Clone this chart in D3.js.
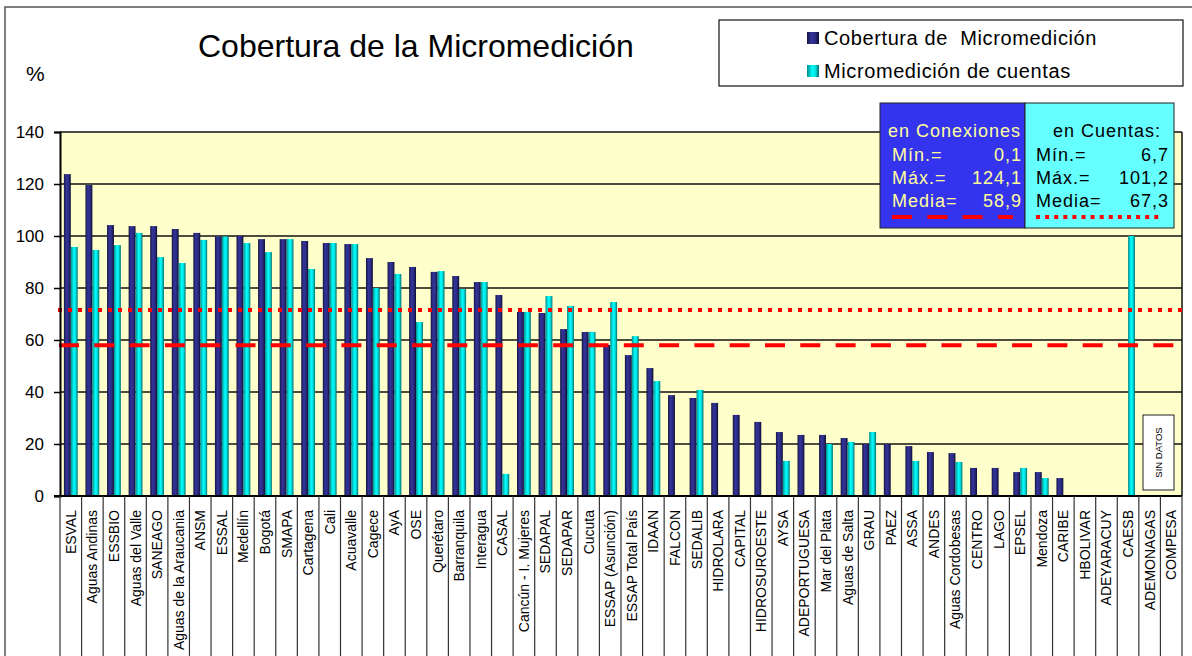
<!DOCTYPE html>
<html>
<head>
<meta charset="utf-8">
<script src="https://cdn.jsdelivr.net/npm/d3@7"></script>
<style>
  body { margin: 0; background: #fff; }
  svg { display: block; font-family: Arial, "Liberation Sans", sans-serif; }
</style>
</head>
<body>
<div id="chart"></div>
<script>
// categories (operators), in the order shown
const operadores = ['ESVAL', 'Aguas Andinas', 'ESSBIO', 'Aguas del Valle', 'SANEAGO',
  'Aguas de la Araucania', 'ANSM', 'ESSAL', 'Medellín', 'Bogotá', 'SMAPA', 'Cartagena',
  'Cali', 'Acuavalle', 'Cagece', 'AyA', 'OSE', 'Querétaro', 'Barranquila', 'Interagua',
  'CASAL', 'Cancún - I. Mujeres', 'SEDAPAL', 'SEDAPAR', 'Cucuta', 'ESSAP (Asunción)',
  'ESSAP Total País', 'IDAAN', 'FALCON', 'SEDALIB', 'HIDROLARA', 'CAPITAL', 'HIDROSUROESTE',
  'AYSA', 'ADEPORTUGUESA', 'Mar del Plata', 'Aguas de Salta', 'GRAU', 'PAEZ', 'ASSA', 'ANDES',
  'Aguas Cordobesas', 'CENTRO', 'LAGO', 'EPSEL', 'Mendoza', 'CARIBE', 'HBOLIVAR',
  'ADEYARACUY', 'CAESB', 'ADEMONAGAS', 'COMPESA']

// Cobertura de Micromedición (en conexiones)
const cobertura = [123.8, 119.6, 104.2, 103.8, 103.8, 102.7, 101.2, 99.8, 100, 98.8, 98.8, 98.1,
  97.3, 96.9, 91.5, 90, 88.1, 86.2, 84.6, 82.3,
  77.3, 70.8, 70.4, 64.2, 63.1, 58.1,
  54.2, 49.2, 38.8, 37.7, 35.8, 31.2, 28.5,
  24.6, 23.5, 23.5, 22.3, 20, 20, 19.2, 16.9,
  16.5, 10.8, 10.8, 9.2, 9.2, 6.9, 0.1,
  null, null, null, null]

// Micromedición de cuentas
const cuentas = [95.8, 94.6, 96.5, 101.2, 91.9, 89.6, 98.5, 99.8, 97.3, 93.8, 98.8, 87.3,
  97.3, 96.9, 80, 85.4, 66.9, 86.5, 79.6, 82.3,
  8.5, 70.8, 76.9, 73.1, 63.1, 74.6,
  61.5, 44.2, null, 40.8, null, null, null,
  13.5, null, 20, 20.8, 24.6, null, 13.5, null,
  13.1, null, null, 10.8, 6.9, null, null,
  null, 100, null, null]

const serieNames = ['Cobertura de\u00A0 Micromedición', 'Micromedición de cuentas']
const yTicks = [0, 20, 40, 60, 80, 100, 120, 140]

// reference lines as drawn on the chart
const lineaConexiones = 58
const lineaCuentas = 71.5

// statistics boxes
const statLabels = ['Mín.=', 'Máx.=', 'Media=']
const statsConexiones = ['0,1', '124,1', '58,9']
const statsCuentas = ['6,7', '101,2', '67,3']

const W = 1192, H = 656
const plot = {left: 60, right: 1182, top: 132, bottom: 496}

const svg = d3.select('#chart').append('svg')
  .attr('width', W).attr('height', H)

// gradients for the cylinder-like bars
const defs = svg.append('defs')
const gradStops = {
  gDark: [['0%', '#141440'], ['35%', '#34349a'], ['70%', '#2a2a80'], ['100%', '#0c0c30']],
  gCyan: [['0%', '#008c8c'], ['45%', '#00ffff'], ['70%', '#00e0e0'], ['100%', '#006b6b']]
}
Object.entries(gradStops).forEach(([id, stops]) => {
  const g = defs.append('linearGradient').attr('id', id)
    .attr('x1', 0).attr('x2', 1).attr('y1', 0).attr('y2', 0)
  stops.forEach(s => g.append('stop').attr('offset', s[0]).attr('stop-color', s[1]))
})
const fills = ['url(#gDark)', 'url(#gCyan)']

// outer frame
svg.append('rect')
  .attr('x', 5).attr('y', 7).attr('width', W).attr('height', H)
  .attr('fill', 'none').attr('stroke', '#555').attr('stroke-width', 1.5)

// title and unit
svg.append('text').attr('x', 198).attr('y', 57)
  .attr('font-size', 32).text('Cobertura de la Micromedición')
svg.append('text').attr('x', 26).attr('y', 81)
  .attr('font-size', 21).text('%')

// scales
const x = d3.scaleBand().domain(operadores).range([plot.left, plot.right]).padding(0)
const x1 = d3.scaleBand().domain([0, 1])
  .range([x.bandwidth() * 0.18, x.bandwidth() * 0.82]).padding(0)
const y = d3.scaleLinear().domain([0, 140]).range([plot.bottom, plot.top])

// plot background
svg.append('rect')
  .attr('x', plot.left).attr('y', plot.top)
  .attr('width', plot.right - plot.left).attr('height', plot.bottom - plot.top)
  .attr('fill', '#ffffcc')

// gridlines
svg.append('g').selectAll('line')
  .data(yTicks.filter(d => d > 0))
  .join('line')
    .attr('x1', plot.left).attr('x2', plot.right)
    .attr('y1', d => y(d)).attr('y2', d => y(d))
    .attr('stroke', '#111').attr('stroke-width', 1.5)

// right border
svg.append('line')
  .attr('x1', plot.right).attr('x2', plot.right)
  .attr('y1', plot.top).attr('y2', plot.bottom)
  .attr('stroke', '#111').attr('stroke-width', 1.5)

// bars
const rows = operadores.map((op, i) => ({op: op, vals: [cobertura[i], cuentas[i]]}))
svg.append('g').selectAll('g')
  .data(rows)
  .join('g')
    .attr('transform', d => 'translate(' + x(d.op) + ',0)')
  .selectAll('rect')
  .data(d => d.vals.map((v, k) => ({k: k, v: v})).filter(e => e.v != null))
  .join('rect')
    .attr('x', d => x1(d.k))
    .attr('width', x1.bandwidth())
    .attr('y', d => y(d.v))
    .attr('height', d => y(0) - y(d.v))
    .attr('fill', d => fills[d.k])

// mean lines
svg.append('line')
  .attr('x1', plot.left - 2).attr('x2', plot.right)
  .attr('y1', y(lineaCuentas)).attr('y2', y(lineaCuentas))
  .attr('stroke', '#ff0000').attr('stroke-width', 4)
  .attr('stroke-dasharray', '4 6')
svg.append('line')
  .attr('x1', plot.left - 1).attr('x2', plot.right - 8)
  .attr('y1', y(lineaConexiones)).attr('y2', y(lineaConexiones))
  .attr('stroke', '#ff0000').attr('stroke-width', 4)
  .attr('stroke-dasharray', '20 15.3')

// y axis
const yAxis = svg.append('g')
  .attr('transform', 'translate(' + plot.left + ',0)')
  .call(d3.axisLeft(y).tickValues(yTicks).tickSize(6).tickPadding(10))
yAxis.select('.domain').attr('stroke', '#000').attr('stroke-width', 2)
yAxis.selectAll('.tick line').attr('stroke', '#000').attr('stroke-width', 1.5)
yAxis.selectAll('.tick text')
  .attr('font-size', 17).attr('font-family', 'Arial, "Liberation Sans", sans-serif')
  .attr('fill', '#000')

// x axis line and category separators
svg.append('line')
  .attr('x1', plot.left - 6).attr('x2', plot.right)
  .attr('y1', plot.bottom).attr('y2', plot.bottom)
  .attr('stroke', '#000').attr('stroke-width', 2)
const bounds = operadores.map(d => x(d)).concat([plot.right])
svg.append('g').selectAll('line')
  .data(bounds)
  .join('line')
    .attr('x1', d => d).attr('x2', d => d)
    .attr('y1', plot.bottom).attr('y2', H + 5)
    .attr('stroke', '#333').attr('stroke-width', 1.2)

svg.append('g').selectAll('text')
  .data(operadores)
  .join('text')
    .attr('transform', d => 'translate(' + (x(d) + x.bandwidth() / 2 + 5) + ',510) rotate(-90)')
    .attr('text-anchor', 'end')
    .attr('font-size', 14)
    .text(d => d)

// SIN DATOS box
svg.append('rect')
  .attr('x', 1143).attr('y', 415).attr('width', 31).attr('height', 75)
  .attr('fill', '#fff').attr('stroke', '#222').attr('stroke-width', 1)
svg.append('text')
  .attr('transform', 'translate(1162,452.5) rotate(-90)')
  .attr('text-anchor', 'middle').attr('font-size', 9.5)
  .text('SIN DATOS')

// legend
const legend = svg.append('g')
legend.append('rect')
  .attr('x', 719).attr('y', 20).attr('width', 464).attr('height', 66)
  .attr('fill', '#fff').attr('stroke', '#111').attr('stroke-width', 1.2)
serieNames.forEach((name, i) => {
  legend.append('rect')
    .attr('x', 807).attr('y', 32 + i * 33).attr('width', 12).attr('height', 12)
    .attr('fill', fills[i])
  legend.append('text')
    .attr('x', 824).attr('y', 45 + i * 33)
    .attr('font-size', 20).attr('letter-spacing', 0.6)
    .text(name)
})

// statistics boxes
const boxes = [
  {x: 880, w: 145, fill: '#3434ee', color: '#ffff99', head: 'en Conexiones', headX: 888,
   labX: 892, valX: 1022, vals: statsConexiones, dash: '20 15.3'},
  {x: 1025, w: 149, fill: '#66ffff', color: '#000', head: 'en Cuentas:', headX: 1053,
   labX: 1036, valX: 1169, vals: statsCuentas, dash: '4 5.1'}
]
boxes.forEach(b => {
  const g = svg.append('g')
  g.append('rect')
    .attr('x', b.x).attr('y', 103).attr('width', b.w).attr('height', 125)
    .attr('fill', b.fill).attr('stroke', '#222').attr('stroke-width', 1)
  g.append('text').attr('x', b.headX).attr('y', 137)
    .attr('font-size', 18).attr('letter-spacing', 1).attr('fill', b.color)
    .text(b.head)
  statLabels.forEach((lab, i) => {
    g.append('text').attr('x', b.labX).attr('y', 161 + i * 23)
      .attr('font-size', 18).attr('letter-spacing', 1).attr('fill', b.color)
      .text(lab)
    g.append('text').attr('x', b.valX).attr('y', 161 + i * 23)
      .attr('font-size', 18).attr('letter-spacing', 1).attr('fill', b.color)
      .attr('text-anchor', 'end')
      .text(b.vals[i])
  })
  g.append('line')
    .attr('x1', b.labX).attr('x2', b.x + b.w - 12)
    .attr('y1', 217).attr('y2', 217)
    .attr('stroke', '#ff0000').attr('stroke-width', 4)
    .attr('stroke-dasharray', b.dash)
})
</script>
</body>
</html>
